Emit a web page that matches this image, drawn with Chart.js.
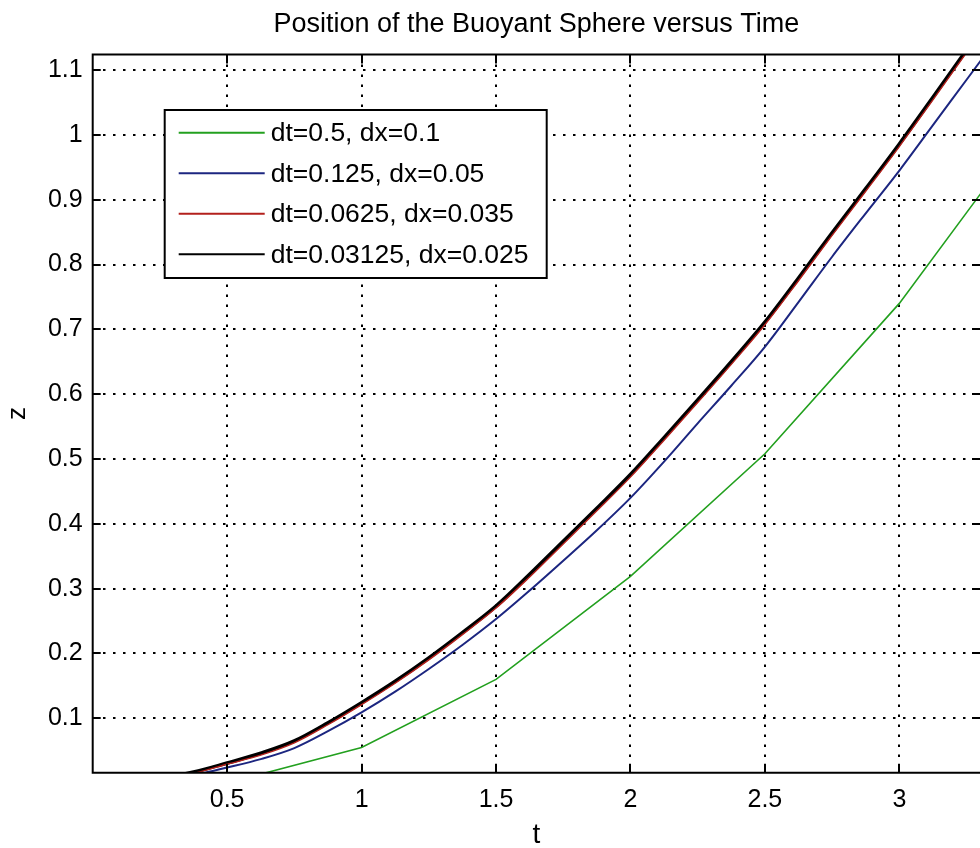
<!DOCTYPE html>
<html>
<head>
<meta charset="utf-8">
<title>Buoyant sphere position</title>
<script src="https://cdn.jsdelivr.net/npm/chart.js@4.4.1/dist/chart.umd.min.js"></script>
<style>
  html, body { margin: 0; padding: 0; background: #fff; }
  canvas { display: block; }
</style>
</head>
<body>
<canvas id="chart" width="980" height="848"></canvas>
<script>
// coarse run (dt=0.5) is only sampled every half second
const tCoarse = [0, 0.5, 1, 1.5, 2, 2.5, 3, 3.5];
const zCoarse = [0, 0.0, 0.055, 0.160, 0.319, 0.508, 0.740, 1.020];

// finer runs, read every 0.125 s
const tFine = [0, 0.25, 0.375, 0.5, 0.625, 0.75, 0.875, 1, 1.125, 1.25, 1.375, 1.5, 1.625, 1.75,
               1.875, 2, 2.125, 2.25, 2.375, 2.5, 2.625, 2.75, 2.875, 3, 3.125, 3.25, 3.375];
const zMedium = [0, 0.004, 0.012, 0.024, 0.037, 0.054, 0.080, 0.109, 0.141, 0.176, 0.213, 0.253, 0.297, 0.343,
                 0.390, 0.440, 0.496, 0.555, 0.613, 0.673, 0.742, 0.812, 0.879, 0.945, 1.015, 1.085, 1.155];
const zFine = [0, 0.007, 0.015, 0.029, 0.043, 0.062, 0.090, 0.121, 0.154, 0.190, 0.229, 0.270, 0.318, 0.369,
               0.420, 0.472, 0.529, 0.587, 0.646, 0.707, 0.775, 0.845, 0.913, 0.982, 1.054, 1.127, 1.201];
const zFinest = [0, 0.008, 0.017, 0.031, 0.046, 0.065, 0.093, 0.124, 0.157, 0.193, 0.232, 0.273, 0.322, 0.373,
                 0.424, 0.476, 0.533, 0.591, 0.650, 0.711, 0.779, 0.849, 0.917, 0.986, 1.058, 1.131, 1.205];

const seriesLabels = ['dt=0.5, dx=0.1', 'dt=0.125, dx=0.05', 'dt=0.0625, dx=0.035', 'dt=0.03125, dx=0.025'];
const seriesColors = ['#23a01f', '#1c2680', '#b3201c', '#000000'];

const xTicks = [0.5, 1, 1.5, 2, 2.5, 3];
const yTicks = [0.1, 0.2, 0.3, 0.4, 0.5, 0.6, 0.7, 0.8, 0.9, 1, 1.1];

const FONT = '"Liberation Sans", Arial, Helvetica, sans-serif';

function toPoints(xs, ys) {
    return xs.map((x, i) => ({ x: x, y: ys[i] }));
}

function makeSet(i, xs, ys, width, smooth) {
    return {
        label: seriesLabels[i],
        data: toPoints(xs, ys),
        borderColor: seriesColors[i],
        backgroundColor: seriesColors[i],
        borderWidth: width,
        pointRadius: 0,
        tension: 0,
        cubicInterpolationMode: smooth ? 'monotone' : 'default',
        fill: false,
        clip: 0
    };
}

// white page behind everything
const pageBackground = {
    id: 'pageBackground',
    beforeDraw(chart) {
        const ctx = chart.ctx;
        ctx.save();
        ctx.fillStyle = '#ffffff';
        ctx.fillRect(0, 0, chart.width, chart.height);
        ctx.restore();
    }
};

// axes box with inward tick marks, plus the centred title
const axesFrame = {
    id: 'axesFrame',
    afterDraw(chart) {
        const { ctx, chartArea: a, scales } = chart;
        ctx.save();
        ctx.strokeStyle = '#000';
        ctx.lineWidth = 2;
        ctx.beginPath();
        ctx.moveTo(a.right + 2, a.top);
        ctx.lineTo(a.left, a.top);
        ctx.lineTo(a.left, a.bottom);
        ctx.lineTo(a.right + 2, a.bottom);
        ctx.stroke();

        ctx.beginPath();
        xTicks.forEach(v => {
            const px = Math.round(scales.x.getPixelForValue(v));
            ctx.moveTo(px, a.bottom);
            ctx.lineTo(px, a.bottom - 9);
            ctx.moveTo(px, a.top);
            ctx.lineTo(px, a.top + 9);
        });
        yTicks.forEach(v => {
            const py = Math.round(scales.y.getPixelForValue(v));
            ctx.moveTo(a.left, py);
            ctx.lineTo(a.left + 8, py);
            ctx.moveTo(a.right, py);
            ctx.lineTo(a.right - 8, py);
        });
        ctx.stroke();

        ctx.fillStyle = '#000';
        ctx.font = '27px ' + FONT;
        ctx.textAlign = 'center';
        ctx.textBaseline = 'middle';
        ctx.fillText('Position of the Buoyant Sphere versus Time', (a.left + a.right) / 2, 25);
        ctx.restore();
    }
};

// boxed legend sitting inside the upper left of the axes
const boxLegend = {
    id: 'boxLegend',
    afterDatasetsDraw(chart) {
        const { ctx, chartArea: a } = chart;
        const x0 = a.left + 72, y0 = a.top + 55.5, w = 382, h = 168;
        ctx.save();
        ctx.fillStyle = '#fff';
        ctx.fillRect(x0, y0, w, h);
        ctx.strokeStyle = '#000';
        ctx.lineWidth = 2;
        ctx.strokeRect(x0, y0, w, h);
        ctx.font = '26.5px ' + FONT;
        ctx.textBaseline = 'middle';
        ctx.textAlign = 'left';
        chart.data.datasets.forEach((ds, i) => {
            const y = y0 + 22.7 + i * 40.5;
            ctx.strokeStyle = ds.borderColor;
            ctx.lineWidth = 2;
            ctx.beginPath();
            ctx.moveTo(x0 + 14, y);
            ctx.lineTo(x0 + 100, y);
            ctx.stroke();
            ctx.fillStyle = '#000';
            ctx.fillText(ds.label, x0 + 106, y + 1);
        });
        ctx.restore();
    }
};

const gridStyle = { color: '#000', lineWidth: 2, drawTicks: false };
const borderStyle = { display: false, dash: [2.5, 7.5] };
const tickStyle = { color: '#000', font: { family: FONT, size: 25 }, callback: v => String(v) };

new Chart(document.getElementById('chart'), {
    type: 'line',
    data: {
        datasets: [
            makeSet(0, tCoarse, zCoarse, 1.6, false),
            makeSet(1, tFine, zMedium, 2, true),
            makeSet(2, tFine, zFine, 1.4, true),
            makeSet(3, tFine, zFinest, 3.6, true)
        ]
    },
    options: {
        responsive: false,
        animation: false,
        devicePixelRatio: 1,
        layout: { padding: { top: 54.5, left: 0, right: 0, bottom: 0 } },
        plugins: {
            legend: { display: false },
            title: { display: false },
            tooltip: { enabled: false }
        },
        scales: {
            x: {
                type: 'linear',
                min: 0,
                max: 3.3,
                afterBuildTicks: s => { s.ticks = xTicks.map(v => ({ value: v })); },
                afterFit: s => { s.height = 75.3; },
                grid: gridStyle,
                border: borderStyle,
                ticks: Object.assign({ padding: 12, maxRotation: 0 }, tickStyle),
                title: { display: true, text: 't', color: '#000', font: { family: FONT, size: 28 }, padding: { top: 0, bottom: -4 } }
            },
            y: {
                type: 'linear',
                min: 0.016,
                max: 1.124,
                afterBuildTicks: s => { s.ticks = yTicks.map(v => ({ value: v })); },
                afterFit: s => { s.width = 92.7; },
                grid: gridStyle,
                border: borderStyle,
                ticks: Object.assign({ padding: 10 }, tickStyle),
                title: { display: true, text: 'z', color: '#000', font: { family: FONT, size: 26 }, padding: { top: 2, bottom: 0 } }
            }
        }
    },
    plugins: [pageBackground, axesFrame, boxLegend]
});
</script>
</body>
</html>
